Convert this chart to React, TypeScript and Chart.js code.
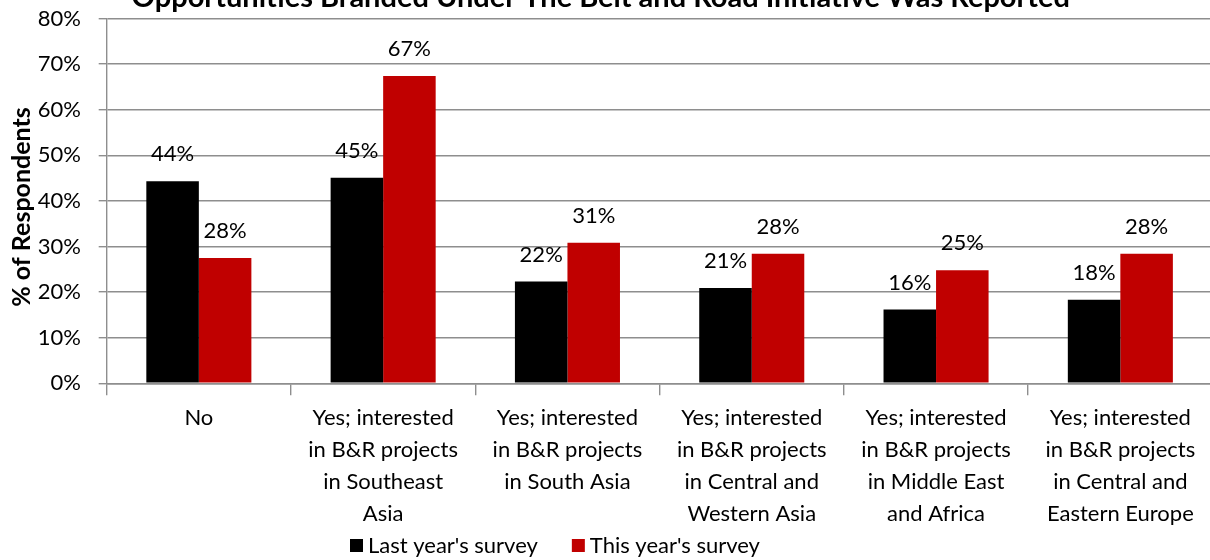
import React, { useEffect, useRef } from "react";
import { Chart, registerables } from "chart.js";

Chart.register(...registerables);

const TITLE = "Opportunities Branded Under The Belt and Road Initiative Was Reported";
const Y_TITLE = "% of Respondents";
const CATEGORIES: string[][] = [
  ["No"],
  ["Yes; interested", "in B&R projects", "in Southeast", "Asia"],
  ["Yes; interested", "in B&R projects", "in South Asia"],
  ["Yes; interested", "in B&R projects", "in Central and", "Western Asia"],
  ["Yes; interested", "in B&R projects", "in Middle East", "and Africa"],
  ["Yes; interested", "in B&R projects", "in Central and", "Eastern Europe"],
];
const SERIES_NAMES = ["Last year's survey", "This year's survey"];
const LAST_YEAR = [44.3, 45.1, 22.3, 20.9, 16.2, 18.3];
const THIS_YEAR = [27.5, 67.4, 30.8, 28.4, 24.8, 28.4];
const SERIES_COLORS = ["#000000", "#C00000"];
const Y_MIN = 0;
const Y_MAX = 80;
const Y_STEP = 10;

const FONT = "Lato, 'Open Sans', sans-serif";
const GRID = "#8e8e8e";

// canvas is offset so that the top of the title is clipped like the reference
const CANVAS_LEFT = -11;
const CANVAS_TOP = -26;
const CANVAS_W = 1224;
const CANVAS_H = 586;

const dataLabelPlugin = {
  id: "dataLabelPlugin",
  afterDatasetsDraw(chart: any) {
    const ctx = chart.ctx;
    ctx.save();
    ctx.font = `22px ${FONT}`;
    ctx.fillStyle = "#000";
    ctx.textAlign = "center";
    ctx.textBaseline = "middle";
    chart.data.datasets.forEach((ds: any, i: number) => {
      const meta = chart.getDatasetMeta(i);
      meta.data.forEach((bar: any, j: number) => {
        const v = ds.data[j] as number;
        ctx.fillText(`${Math.round(v)}%`, bar.x, bar.y - 27);
      });
    });
    ctx.restore();
  },
};

const yTitlePlugin = {
  id: "yTitlePlugin",
  afterDraw(chart: any) {
    const ctx = chart.ctx;
    ctx.save();
    ctx.font = `bold 25px ${FONT}`;
    ctx.fillStyle = "#000";
    ctx.textAlign = "center";
    ctx.textBaseline = "middle";
    ctx.translate(33, 233);
    ctx.rotate(-Math.PI / 2);
    ctx.fillText(Y_TITLE, 0, 0);
    ctx.restore();
  },
};

const legendPlugin = {
  id: "legendPlugin",
  afterDraw(chart: any) {
    const ctx = chart.ctx;
    ctx.save();
    ctx.font = `22px ${FONT}`;
    ctx.textAlign = "left";
    ctx.textBaseline = "middle";
    let x = 361;
    const y = 571.5;
    chart.data.datasets.forEach((ds: any) => {
      ctx.fillStyle = ds.backgroundColor;
      ctx.fillRect(x, y - 6.5, 13, 13);
      x += 18;
      ctx.fillStyle = "#000";
      ctx.fillText(ds.label, x, y);
      x += ctx.measureText(ds.label).width + 34;
    });
    ctx.restore();
  },
};

export default function App() {
  const ref = useRef<HTMLCanvasElement | null>(null);

  useEffect(() => {
    if (!ref.current) return;
    const chart = new Chart(ref.current, {
      type: "bar",
      data: {
        labels: CATEGORIES,
        datasets: [
          {
            label: SERIES_NAMES[0],
            data: LAST_YEAR,
            backgroundColor: SERIES_COLORS[0],
            categoryPercentage: 0.57,
            barPercentage: 1,
          },
          {
            label: SERIES_NAMES[1],
            data: THIS_YEAR,
            backgroundColor: SERIES_COLORS[1],
            categoryPercentage: 0.57,
            barPercentage: 1,
          },
        ],
      },
      options: {
        animation: false,
        responsive: true,
        maintainAspectRatio: false,
        layout: { padding: { left: 0, right: 0.5, top: 0, bottom: 29.7 } },
        plugins: {
          legend: { display: false },
          tooltip: { enabled: false },
          title: {
            display: true,
            text: TITLE,
            color: "#000",
            font: { family: FONT, size: 29, weight: "bold", lineHeight: 1.2 },
            padding: { top: 6, bottom: 3.7 },
          },
        },
        scales: {
          x: {
            grid: {
              display: true,
              drawOnChartArea: false,
              drawTicks: true,
              tickLength: 12,
              color: GRID,
              lineWidth: 1.4,
              offset: true,
            },
            border: { display: true, color: GRID, width: 1.4 },
            ticks: {
              color: "#000",
              font: { family: FONT, size: 22, lineHeight: 32 / 22 },
              padding: 7,
              maxRotation: 0,
              minRotation: 0,
              autoSkip: false,
            },
            afterFit: (axis: any) => {
              axis.height = 147;
            },
          },
          y: {
            min: Y_MIN,
            max: Y_MAX,
            grid: {
              color: GRID,
              lineWidth: 1.4,
              tickLength: 8,
              drawTicks: true,
            },
            border: { display: true, color: GRID, width: 1.4 },
            ticks: {
              stepSize: Y_STEP,
              color: "#000",
              padding: 17.7,
              font: { family: FONT, size: 22 },
              callback: (v: any) => `${v}%`,
            },
            title: { display: false },
            afterFit: (axis: any) => {
              axis.width = 117.7;
            },
          },
        },
      },
      plugins: [dataLabelPlugin, yTitlePlugin, legendPlugin],
    });
    return () => chart.destroy();
  }, []);

  return (
    <div
      style={{
        position: "fixed",
        left: 0,
        top: 0,
        width: 1210,
        height: 560,
        overflow: "hidden",
        background: "#fff",
      }}
    >
      <div
        style={{
          position: "absolute",
          left: CANVAS_LEFT,
          top: CANVAS_TOP,
          width: CANVAS_W,
          height: CANVAS_H,
        }}
      >
        <canvas ref={ref} />
      </div>
    </div>
  );
}
